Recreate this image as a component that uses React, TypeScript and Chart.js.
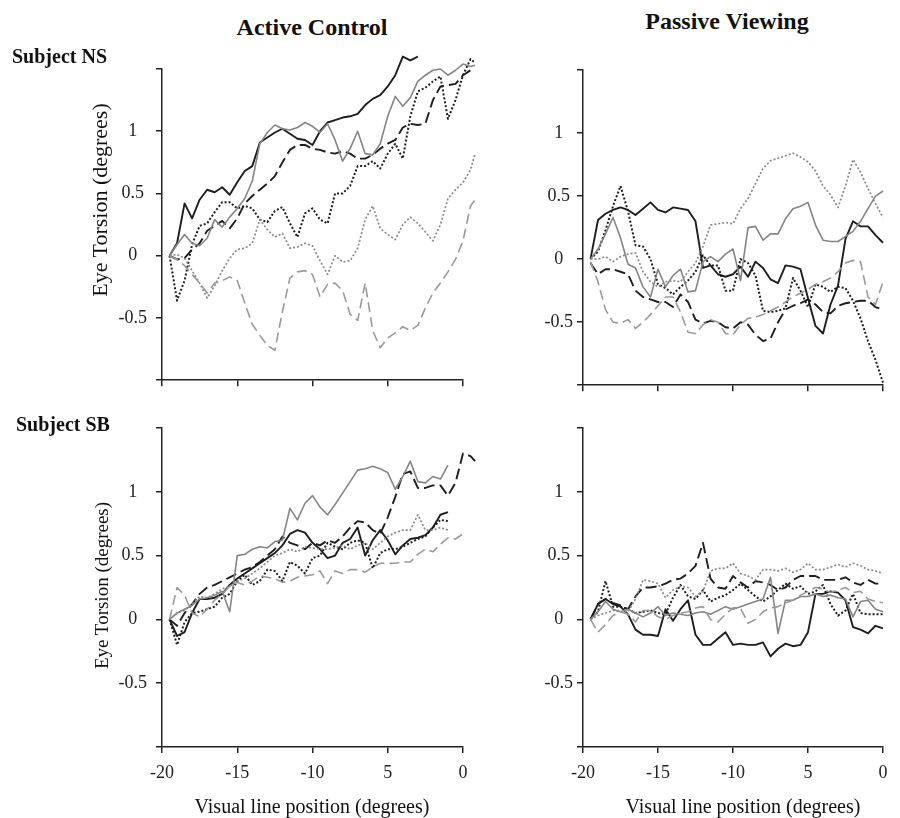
import React, { useEffect, useRef } from 'react';
import { Chart, registerables } from 'chart.js';

Chart.register(...registerables);

// ---------- data ----------
const X = [
  -19.5, -19, -18.5, -18, -17.5, -17, -16.5, -16, -15.5, -15,
  -14.5, -14, -13.5, -13, -12.5, -12, -11.5, -11, -10.5, -10,
  -9.5, -9, -8.5, -8, -7.5, -7, -6.5, -6, -5.5, -5,
  -4.5, -4, -3.5, -3, -2.5, -2, -1.5, -1, -0.5, 0,
  0.5, 0.8,
];

const X_TICKS = [-20, -15, -10, -5, 0];
const X_TICK_LABELS = ['-20', '-15', '-10', '5', '0'];
const Y_TICKS = [-1, -0.5, 0, 0.5, 1, 1.5];
const Y_TICK_LABELS = ['', '-0.5', '0', '0.5', '1', ''];

// Subject NS, Active Control
const NS_ACTIVE_BLACK_SOLID = [
  0, 0.1, 0.42, 0.3, 0.45, 0.53, 0.51, 0.55, 0.49, 0.59,
  0.68, 0.72, 0.91, 0.95, 0.99, 1.02, 0.98, 0.94, 0.93, 0.89,
  1.0, 1.07, 1.09, 1.11, 1.12, 1.14, 1.21, 1.26, 1.29, 1.36,
  1.45, 1.6, 1.57, 1.6, null, null, null, null, null, null,
  null, null,
];
const NS_ACTIVE_GRAY_SOLID = [
  0, 0.09, 0.17, 0.1, 0.08, 0.14, 0.29, 0.23, 0.31, 0.38,
  0.46, 0.6, 0.9, 0.99, 1.05, 1.02, 1.01, 1.03, 1.07, 1.04,
  0.99, 1.06, 0.93, 0.76, 0.86, 1.0, 0.82, 0.81, 0.9, 1.12,
  1.28, 1.2, 1.27, 1.4, 1.45, 1.49, 1.5, 1.45, 1.49, 1.54,
  1.52, 1.53,
];
const NS_ACTIVE_BLACK_DASHED = [
  0, -0.03, -0.02, 0.05, 0.1, 0.2, 0.24, 0.28, 0.22, 0.3,
  0.42, 0.48, 0.53, 0.58, 0.64, 0.75, 0.85, 0.89, 0.89, 0.86,
  0.85, 0.83, 0.82, 0.84, 0.82, 0.78, 0.78, 0.81, 0.86, 0.9,
  0.93, 1.03, 1.06, 1.05, 1.06, 1.25, 1.36, 1.37, 1.38, 1.45,
  1.49, 1.5,
];
const NS_ACTIVE_GRAY_DASHED = [
  0, -0.03, -0.08, -0.15, -0.22, -0.3, -0.22, -0.2, -0.17, -0.2,
  -0.38, -0.55, -0.64, -0.72, -0.76, -0.45, -0.18, -0.13, -0.12, -0.15,
  -0.33, -0.23, -0.22, -0.28, -0.47, -0.52, -0.22, -0.6, -0.74, -0.66,
  -0.62, -0.57, -0.6, -0.56, -0.42, -0.3, -0.22, -0.13, -0.03, 0.12,
  0.4, 0.45,
];
const NS_ACTIVE_BLACK_DOTTED = [
  0, -0.36, -0.2, 0.09, 0.24, 0.26, 0.35, 0.43, 0.43, 0.38,
  0.4, 0.38, 0.29, 0.27, 0.36, 0.39, 0.26, 0.15, 0.34, 0.38,
  0.29, 0.26, 0.5, 0.5, 0.56, 0.72, 0.72, 0.76, 0.7, 0.82,
  0.9, 0.78, 1.12, 1.32, 1.35, 1.4, 1.44, 1.1, 1.25, 1.45,
  1.58, 1.55,
];
const NS_ACTIVE_GRAY_DOTTED = [
  0, 0.01, -0.02, -0.12, -0.22, -0.34, -0.24, -0.12, -0.02, 0.05,
  0.06, 0.1, 0.29, 0.21, 0.15, 0.18, 0.06, 0.07, 0.1, 0.08,
  -0.04, -0.15, 0, -0.05, -0.04, 0.06, 0.29, 0.4, 0.22, 0.17,
  0.13, 0.25, 0.31, 0.26, 0.19, 0.12, 0.25, 0.46, 0.53, 0.59,
  0.69, 0.82,
];

// Subject NS, Passive Viewing
const NS_PASSIVE_BLACK_SOLID = [
  0, 0.31, 0.36, 0.39, 0.41, 0.39, 0.35, 0.4, 0.45, 0.39,
  0.37, 0.41, 0.4, 0.39, 0.3, -0.07, -0.05, -0.12, -0.14, -0.12,
  -0.06, -0.14, -0.02, -0.07, -0.16, -0.19, -0.05, -0.06, -0.08, -0.31,
  -0.53, -0.59, -0.36, -0.21, 0.16, 0.3, 0.26, 0.26, 0.19, 0.13,
  null, null,
];
const NS_PASSIVE_GRAY_SOLID = [
  0, 0.08, 0.2, 0.33, 0.17, -0.04, -0.07, -0.22, -0.3, -0.08,
  -0.22, -0.13, -0.08, -0.26, -0.25, -0.02, 0.02, -0.02, 0.04, 0.08,
  -0.17, 0.25, 0.26, 0.15, 0.2, 0.2, 0.32, 0.4, 0.42, 0.45,
  0.27, 0.15, 0.14, 0.14, 0.18, 0.22, 0.3, 0.4, 0.5, 0.54,
  null, null,
];
const NS_PASSIVE_BLACK_DASHED = [
  -0.03, -0.12, -0.08, -0.08, -0.1, -0.12, -0.25, -0.3, -0.32, -0.34,
  -0.34, -0.38, -0.28, -0.34, -0.48, -0.51, -0.49, -0.5, -0.54, -0.55,
  -0.5, -0.52, -0.6, -0.65, -0.63, -0.5, -0.4, -0.37, -0.35, -0.32,
  -0.36, -0.42, -0.43, -0.37, -0.35, -0.34, -0.33, -0.33, -0.38, -0.4,
  null, null,
];
const NS_PASSIVE_GRAY_DASHED = [
  -0.02, -0.18, -0.4, -0.5, -0.51, -0.48, -0.55, -0.5, -0.44, -0.37,
  -0.3, -0.3, -0.42, -0.58, -0.59, -0.52, -0.48, -0.5, -0.59, -0.6,
  -0.52, -0.47, -0.46, -0.44, -0.41, -0.38, -0.34, -0.3, -0.27, -0.24,
  -0.2, -0.18, -0.15, -0.1, -0.03, -0.01, -0.02, -0.3, -0.36, -0.18,
  null, null,
];
const NS_PASSIVE_BLACK_DOTTED = [
  0, 0.06, 0.23, 0.42, 0.58, 0.38, 0.11, 0.1, 0.0, -0.2,
  -0.23, -0.28, -0.22, -0.17, -0.1, 0.03, -0.05, -0.05, -0.25, -0.25,
  0.0, -0.03, -0.13, -0.41, -0.42, -0.41, -0.39, -0.15, -0.25, -0.38,
  -0.2, -0.22, -0.26, -0.22, -0.23, -0.33, -0.47, -0.65, -0.8, -0.98,
  null, null,
];
const NS_PASSIVE_GRAY_DOTTED = [
  0, 0.0, 0.02, -0.02, 0.02, 0.04, 0.05, -0.1, -0.18, -0.22,
  -0.18, -0.17, -0.18, -0.1, -0.03, 0.1, 0.27, 0.28, 0.29, 0.28,
  0.4, 0.48, 0.6, 0.72, 0.78, 0.8, 0.82, 0.84, 0.81, 0.77,
  0.7, 0.58, 0.51, 0.41, 0.58, 0.79, 0.69, 0.56, 0.44, 0.33,
  null, null,
];

// Subject SB, Active Control
const SB_ACTIVE_BLACK_SOLID = [
  0, -0.13, -0.1, 0.05, 0.16, 0.16, 0.17, 0.2, 0.27, 0.32,
  0.36, 0.4, 0.44, 0.48, 0.52, 0.58, 0.67, 0.7, 0.68, 0.6,
  0.55, 0.48, 0.5, 0.6, 0.63, 0.72, 0.5, 0.62, 0.7, 0.62,
  0.51, 0.58, 0.63, 0.64, 0.66, 0.72, 0.82, 0.84, null, null,
  null, null,
];
const SB_ACTIVE_GRAY_SOLID = [
  0, 0.05, 0.08, 0.11, 0.16, 0.17, 0.19, 0.22, 0.06, 0.5,
  0.51, 0.55, 0.57, 0.56, 0.61, 0.62, 0.87, 0.78, 0.91, 0.97,
  0.88, 0.82, 0.9, 0.99, 1.08, 1.17, 1.18, 1.2, 1.18, 1.15,
  1.02, 1.12, 1.24, 1.08, 1.07, 1.12, 1.1, 1.21, null, null,
  null, null,
];
const SB_ACTIVE_BLACK_DASHED = [
  0, -0.05, 0.05, 0.12, 0.2, 0.25, 0.27, 0.3, 0.33, 0.36,
  0.39, 0.41, 0.45, 0.5, 0.55, 0.65, 0.6, 0.58, 0.55, 0.6,
  0.58, 0.62, 0.6, 0.65, 0.72, 0.77, 0.76, 0.7, 0.67, 0.8,
  0.96, 1.14, 1.16, 1.03, 1.03, 1.05, 1.05, 0.97, 1.07, 1.3,
  1.28, 1.24,
];
const SB_ACTIVE_GRAY_DASHED = [
  0, 0.25, 0.19, 0.05, 0.02, 0.08, 0.15, 0.2, 0.26, 0.29,
  0.27, 0.3, 0.34, 0.33, 0.32, 0.29, 0.3, 0.33, 0.34, 0.35,
  0.38, 0.28, 0.38, 0.36, 0.39, 0.39, 0.37, 0.41, 0.44, 0.44,
  0.44, 0.45, 0.45, 0.51, 0.55, 0.53, 0.59, 0.64, 0.63, 0.67,
  null, null,
];
const SB_ACTIVE_BLACK_DOTTED = [
  0, -0.2, -0.02, 0.05, 0.06, 0.08, 0.1, 0.17, 0.2, 0.3,
  0.35, 0.27, 0.3, 0.39, 0.38, 0.3, 0.45, 0.42, 0.36, 0.48,
  0.5, 0.6, 0.57, 0.55, 0.6, 0.62, 0.6, 0.4, 0.52, 0.55,
  0.55, 0.57, 0.6, 0.63, 0.65, 0.72, 0.78, 0.77, null, null,
  null, null,
];
const SB_ACTIVE_GRAY_DOTTED = [
  0, 0.05, 0.07, 0.12, 0.18, 0.17, 0.2, 0.24, 0.26, 0.3,
  0.32, 0.36, 0.4, 0.45, 0.5, 0.52, 0.55, 0.53, 0.57, 0.56,
  0.55, 0.55, 0.56, 0.58, 0.55, 0.58, 0.6, 0.55, 0.6, 0.65,
  0.68, 0.7, 0.7, 0.82, 0.7, 0.7, 0.72, 0.7, null, null,
  null, null,
];

// Subject SB, Passive Viewing
const SB_PASSIVE_BLACK_SOLID = [
  0, 0.12, 0.16, 0.12, 0.1, 0.04, -0.08, -0.12, -0.12, -0.13,
  0.08, -0.01, 0.08, 0.15, -0.12, -0.2, -0.2, -0.15, -0.1, -0.2,
  -0.19, -0.2, -0.2, -0.18, -0.29, -0.23, -0.19, -0.21, -0.2, -0.1,
  0.2, 0.2, 0.22, 0.21, 0.15, -0.06, -0.08, -0.11, -0.05, -0.07,
  null, null,
];
const SB_PASSIVE_GRAY_SOLID = [
  0, 0.06, 0.14, 0.08, 0.06, 0.08, 0.05, 0.02, 0.05, 0.1,
  0.03, 0.05, 0.04, 0.03, 0.05, 0.06, 0.04, 0.07, 0.1, 0.08,
  0.1, 0.12, 0.14, 0.16, 0.33, -0.11, 0.15, 0.15, 0.18, 0.18,
  0.2, 0.18, 0.19, 0.17, 0.16, 0.02, 0.14, 0.15, 0.08, 0.06,
  null, null,
];
const SB_PASSIVE_BLACK_DASHED = [
  0, 0.12, 0.16, 0.13, 0.11, 0.08, 0.18, 0.25, 0.25, 0.26,
  0.28, 0.31, 0.32, 0.36, 0.42, 0.6, 0.32, 0.25, 0.24, 0.34,
  0.29, 0.25, 0.3, 0.29, 0.27, 0.23, 0.25, 0.31, 0.34, 0.34,
  0.34, 0.31, 0.31, 0.31, 0.33, 0.29, 0.27, 0.31, 0.28, 0.28,
  null, null,
];
const SB_PASSIVE_GRAY_DASHED = [
  0, -0.1, -0.04, 0.03, 0.06, 0.04, -0.02, 0.07, 0.07, 0.02,
  0.0, 0.03, 0.05, 0.06, 0.09, 0.1, 0.0, -0.02, 0.04, 0.09,
  0.09, -0.03, 0.0, 0.06, 0.09, 0.1, 0.13, 0.15, 0.19, 0.22,
  0.25, 0.24, 0.21, 0.23, 0.25, 0.21, 0.22, 0.16, 0.14, 0.13,
  null, null,
];
const SB_PASSIVE_BLACK_DOTTED = [
  0, 0.06, 0.3, 0.1, 0.1, 0.08, 0.05, 0.06, 0.07, 0.05,
  0.04, 0.17, 0.27, 0.18, 0.16, 0.23, 0.14, 0.17, 0.19, 0.23,
  0.28, 0.23, 0.18, 0.14, 0.18, 0.23, 0.28, 0.24, 0.26, 0.2,
  0.22, 0.27, 0.12, 0.03, 0.07, 0.2, 0.05, 0.04, 0.04, 0.04,
  null, null,
];
const SB_PASSIVE_GRAY_DOTTED = [
  0, 0.03, 0.05, 0.07, 0.06, 0.06, 0.16, 0.31, 0.3, 0.28,
  0.17, 0.23, 0.26, 0.25, 0.18, 0.22, 0.38, 0.4, 0.4, 0.44,
  0.36, 0.34, 0.31, 0.39, 0.39, 0.38, 0.4, 0.37, 0.39, 0.44,
  0.39, 0.39, 0.41, 0.43, 0.41, 0.44, 0.42, 0.39, 0.38, 0.36,
  null, null,
];

// ---------- styles ----------
type LineStyle = { color: string; width: number; dash: number[] };
const STYLE: Record<string, LineStyle> = {
  graySolid: { color: '#858585', width: 1.6, dash: [] },
  grayDashed: { color: '#9a9a9a', width: 1.6, dash: [10, 5] },
  grayDotted: { color: '#8a8a8a', width: 1.7, dash: [2, 2] },
  blackSolid: { color: '#1e1e1e', width: 1.9, dash: [] },
  blackDashed: { color: '#1e1e1e', width: 1.9, dash: [11, 5] },
  blackDotted: { color: '#1e1e1e', width: 2, dash: [2, 2] },
};

const FONT_FAMILY = "'Liberation Serif', 'Times New Roman', Times, serif";
const AXIS_COLOR = '#222';
const X_MIN = -20;
const X_MAX = 0;
const Y_MIN = -1;
const Y_MAX = 1.5;

type Series = { style: string; values: (number | null)[] };

type PanelProps = {
  left: number;
  top: number;
  width: number;
  height: number;
  padTop: number;
  padRight: number;
  axisW: number;
  axisH: number;
  yTickPad: number;
  showXLabels: boolean;
  series: Series[];
};

function Panel(p: PanelProps) {
  const ref = useRef<HTMLCanvasElement | null>(null);
  useEffect(() => {
    if (!ref.current) return;
    const tickFont = { family: FONT_FAMILY, size: 18 };
    const chart = new Chart(ref.current, {
      type: 'line',
      data: {
        datasets: p.series.map((s) => {
          const st = STYLE[s.style];
          const pts: { x: number; y: number }[] = [];
          X.forEach((x, i) => {
            const v = s.values[i];
            if (v !== null && v !== undefined) pts.push({ x, y: v });
          });
          return {
            data: pts,
            borderColor: st.color,
            borderWidth: st.width,
            borderDash: st.dash,
            borderCapStyle: 'butt',
            borderJoinStyle: 'round',
            pointRadius: 0,
            pointHoverRadius: 0,
            tension: 0,
            fill: false,
            clip: false,
          } as any;
        }),
      },
      options: {
        animation: false,
        responsive: false,
        maintainAspectRatio: false,
        events: [],
        layout: { padding: { top: p.padTop, left: 0, right: p.padRight, bottom: 0 } },
        plugins: {
          legend: { display: false },
          tooltip: { enabled: false },
          title: { display: false },
        },
        scales: {
          x: {
            type: 'linear',
            bounds: 'data',
            // range fixed after data limits so that points just past 0 are still drawn
            afterDataLimits: (sc: any) => {
              sc.min = X_MIN;
              sc.max = X_MAX;
            },
            afterBuildTicks: (sc: any) => {
              sc.ticks = X_TICKS.map((v) => ({ value: v }));
              sc.min = X_MIN;
              sc.max = X_MAX;
            },
            afterFit: (sc: any) => {
              sc.height = p.axisH;
            },
            ticks: {
              display: true,
              autoSkip: false,
              maxRotation: 0,
              padding: 9.5,
              color: AXIS_COLOR,
              font: tickFont,
              callback: (v: any) => {
                if (!p.showXLabels) return '';
                const i = X_TICKS.findIndex((t) => Math.abs(t - Number(v)) < 1e-9);
                return i >= 0 ? X_TICK_LABELS[i] : '';
              },
            },
            grid: {
              display: true,
              drawOnChartArea: false,
              drawTicks: true,
              tickLength: 6,
              color: AXIS_COLOR,
              lineWidth: 1.5,
            },
            border: { display: true, color: AXIS_COLOR, width: 1.5 },
          },
          y: {
            type: 'linear',
            min: Y_MIN,
            max: Y_MAX,
            afterBuildTicks: (sc: any) => {
              sc.ticks = Y_TICKS.map((v) => ({ value: v }));
            },
            afterFit: (sc: any) => {
              sc.width = p.axisW;
            },
            ticks: {
              display: true,
              crossAlign: 'center',
              padding: p.yTickPad,
              color: AXIS_COLOR,
              font: tickFont,
              callback: (v: any) => {
                const i = Y_TICKS.findIndex((t) => Math.abs(t - Number(v)) < 1e-9);
                return i >= 0 ? Y_TICK_LABELS[i] : '';
              },
            },
            grid: {
              display: true,
              drawOnChartArea: false,
              drawTicks: true,
              tickLength: 6,
              color: AXIS_COLOR,
              lineWidth: 1.5,
            },
            border: { display: true, color: AXIS_COLOR, width: 1.5 },
          },
        },
      } as any,
    });
    return () => chart.destroy();
  }, []);
  return (
    <canvas
      ref={ref}
      width={p.width}
      height={p.height}
      style={{ position: 'absolute', left: p.left, top: p.top, width: p.width, height: p.height }}
    />
  );
}

function makeSeries(
  graySolid: (number | null)[],
  grayDashed: (number | null)[],
  grayDotted: (number | null)[],
  blackSolid: (number | null)[],
  blackDashed: (number | null)[],
  blackDotted: (number | null)[]
): Series[] {
  return [
    { style: 'grayDashed', values: grayDashed },
    { style: 'grayDotted', values: grayDotted },
    { style: 'graySolid', values: graySolid },
    { style: 'blackDotted', values: blackDotted },
    { style: 'blackDashed', values: blackDashed },
    { style: 'blackSolid', values: blackSolid },
  ];
}

const textBase: React.CSSProperties = {
  position: 'absolute',
  fontFamily: FONT_FAMILY,
  color: '#111',
  whiteSpace: 'nowrap',
  margin: 0,
};

function VerticalTitle({ cx, cy, size, text }: { cx: number; cy: number; size: number; text: string }) {
  const w = 320;
  const h = Math.round(size * 1.2);
  return (
    <div
      style={{
        ...textBase,
        left: cx - w / 2,
        top: cy - h / 2,
        width: w,
        height: h,
        lineHeight: h + 'px',
        fontSize: size,
        textAlign: 'center',
        transform: 'rotate(-90deg)',
        transformOrigin: '50% 50%',
      }}
    >
      {text}
    </div>
  );
}

export default function App() {
  return (
    <div
      style={{
        position: 'absolute',
        left: 0,
        top: 0,
        width: 900,
        height: 818,
        background: '#ffffff',
        overflow: 'hidden',
      }}
    >
      <Panel
        left={0}
        top={40}
        width={483}
        height={360}
        padTop={29}
        padRight={20}
        axisW={162}
        axisH={12}
        yTickPad={9}
        showXLabels={false}
        series={makeSeries(
          NS_ACTIVE_GRAY_SOLID,
          NS_ACTIVE_GRAY_DASHED,
          NS_ACTIVE_GRAY_DOTTED,
          NS_ACTIVE_BLACK_SOLID,
          NS_ACTIVE_BLACK_DASHED,
          NS_ACTIVE_BLACK_DOTTED
        )}
      />
      <Panel
        left={490}
        top={40}
        width={408}
        height={360}
        padTop={30}
        padRight={15}
        axisW={93}
        axisH={12}
        yTickPad={4}
        showXLabels={false}
        series={makeSeries(
          NS_PASSIVE_GRAY_SOLID,
          NS_PASSIVE_GRAY_DASHED,
          NS_PASSIVE_GRAY_DOTTED,
          NS_PASSIVE_BLACK_SOLID,
          NS_PASSIVE_BLACK_DASHED,
          NS_PASSIVE_BLACK_DOTTED
        )}
      />
      <Panel
        left={0}
        top={400}
        width={483}
        height={400}
        padTop={28}
        padRight={20}
        axisW={162}
        axisH={53}
        yTickPad={9}
        showXLabels={true}
        series={makeSeries(
          SB_ACTIVE_GRAY_SOLID,
          SB_ACTIVE_GRAY_DASHED,
          SB_ACTIVE_GRAY_DOTTED,
          SB_ACTIVE_BLACK_SOLID,
          SB_ACTIVE_BLACK_DASHED,
          SB_ACTIVE_BLACK_DOTTED
        )}
      />
      <Panel
        left={490}
        top={400}
        width={408}
        height={400}
        padTop={28}
        padRight={15}
        axisW={93}
        axisH={53}
        yTickPad={4}
        showXLabels={true}
        series={makeSeries(
          SB_PASSIVE_GRAY_SOLID,
          SB_PASSIVE_GRAY_DASHED,
          SB_PASSIVE_GRAY_DOTTED,
          SB_PASSIVE_BLACK_SOLID,
          SB_PASSIVE_BLACK_DASHED,
          SB_PASSIVE_BLACK_DOTTED
        )}
      />

      <div style={{ ...textBase, left: 162, top: 15, width: 300, textAlign: 'center', fontSize: 24, lineHeight: '24px', fontWeight: 'bold' }}>
        Active Control
      </div>
      <div style={{ ...textBase, left: 577, top: 9, width: 300, textAlign: 'center', fontSize: 24, lineHeight: '24px', fontWeight: 'bold' }}>
        Passive Viewing
      </div>
      <div style={{ ...textBase, left: 12, top: 46, fontSize: 20, lineHeight: '20px', fontWeight: 'bold' }}>Subject NS</div>
      <div style={{ ...textBase, left: 16, top: 414, fontSize: 20, lineHeight: '20px', fontWeight: 'bold' }}>Subject SB</div>

      <VerticalTitle cx={100} cy={200} size={22} text="Eye Torsion (degrees)" />
      <VerticalTitle cx={101} cy={585} size={19} text="Eye Torsion (degrees)" />

      <div style={{ ...textBase, left: 162, top: 794, width: 300, textAlign: 'center', fontSize: 20, lineHeight: '24px' }}>
        Visual line position (degrees)
      </div>
      <div style={{ ...textBase, left: 593, top: 794, width: 300, textAlign: 'center', fontSize: 20, lineHeight: '24px' }}>
        Visual line position (degrees)
      </div>
    </div>
  );
}
